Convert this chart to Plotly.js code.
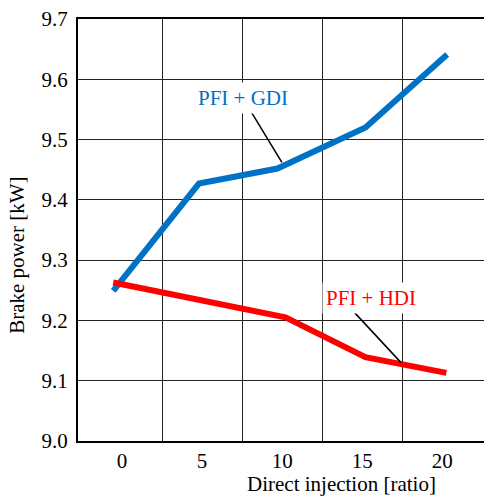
<!DOCTYPE html>
<html>
<head>
<meta charset="utf-8">
<script src="https://cdn.plot.ly/plotly-3.0.1.min.js"></script>
<style>html,body{margin:0;padding:0;background:#fff;}#chart{width:484px;height:498px;}</style>
</head>
<body>
<div id="chart"></div>
<script>
// Data
const gdiX = [-0.55, 4.8, 9.7, 15.2, 20.3];
const gdiY = [9.249, 9.427, 9.452, 9.520, 9.641];
const hdiX = [-0.55, 10.2, 15.2, 20.25];
const hdiY = [9.263, 9.205, 9.139, 9.113];
const xTickVals = [0, 5, 10, 15, 20];
const xTickText = ['0', '5', '10', '15', '20'];
const xGridVals = [2.5, 7.5, 12.5, 17.5];
const yTickVals = [9.0, 9.1, 9.2, 9.3, 9.4, 9.5, 9.6, 9.7];
const yTickText = ['9.0', '9.1', '9.2', '9.3', '9.4', '9.5', '9.6', '9.7'];
const labelGDI = 'PFI + GDI';
const labelHDI = 'PFI + HDI';
const xTitle = 'Direct injection [ratio]';
const yTitle = 'Brake power [kW]';

const FONT = '"Liberation Serif", "Times New Roman", serif';
const BLUE = '#0072C6';
const RED = '#FF0000';

const traces = [
  {x: gdiX, y: gdiY, type: 'scatter', mode: 'lines', line: {color: BLUE, width: 6}, name: labelGDI, hoverinfo: 'skip'},
  {x: hdiX, y: hdiY, type: 'scatter', mode: 'lines', line: {color: RED, width: 6}, name: labelHDI, hoverinfo: 'skip'}
];

const layout = {
  width: 484, height: 498,
  margin: {l: 78, r: 0, t: 19, b: 57, pad: 0},
  paper_bgcolor: '#fff', plot_bgcolor: '#fff',
  showlegend: false,
  font: {family: FONT, size: 21, color: '#000'},
  xaxis: {
    range: [-2.75, 22.6],
    tickmode: 'array', tickvals: xTickVals, ticktext: xTickText,
    ticks: '', showgrid: false, zeroline: false,
    showline: true, linecolor: '#000', linewidth: 2, mirror: true,
    ticklabelstandoff: 0,
    minor: {tickmode: 'array', tickvals: xGridVals, showgrid: true, gridcolor: '#222', gridwidth: 1, ticks: ''},
    tickfont: {family: FONT, size: 21, color: '#000'}
  },
  yaxis: {
    range: [9.0, 9.7],
    tickmode: 'array', tickvals: yTickVals, ticktext: yTickText,
    ticks: '', showgrid: true, gridcolor: '#222', gridwidth: 1, zeroline: false,
    showline: true, linecolor: '#000', linewidth: 2, mirror: false,
    ticklabelstandoff: 4,
    tickfont: {family: FONT, size: 21, color: '#000'}
  },
  annotations: [
    {x: 9.98, y: 9.462, xref: 'x', yref: 'y', text: '', showarrow: true, arrowhead: 0, arrowwidth: 1.5, arrowcolor: '#000', ax: -31, ay: -51},
    {x: 17.42, y: 9.130, xref: 'x', yref: 'y', text: '', showarrow: true, arrowhead: 0, arrowwidth: 1.5, arrowcolor: '#000', ax: -52, ay: -56},
    {x: 7.56, y: 9.569, xref: 'x', yref: 'y', text: labelGDI, showarrow: false, bgcolor: '#fff', borderpad: 3,
     font: {family: FONT, size: 21, color: BLUE}},
    {x: 15.56, y: 9.238, xref: 'x', yref: 'y', text: labelHDI, showarrow: false, bgcolor: '#fff', borderpad: 3,
     font: {family: FONT, size: 21, color: RED}},
    {x: 0.650, y: -0.136, xref: 'paper', yref: 'paper', text: xTitle, showarrow: false, xanchor: 'center', yanchor: 'bottom',
     font: {family: FONT, size: 21, color: '#000'}},
    {x: -0.149, y: 0.44, xref: 'paper', yref: 'paper', text: yTitle, showarrow: false, textangle: -90, xanchor: 'center', yanchor: 'middle',
     font: {family: FONT, size: 21, color: '#000'}}
  ]
};

Plotly.newPlot('chart', traces, layout, {displayModeBar: false, staticPlot: true});
</script>
</body>
</html>
